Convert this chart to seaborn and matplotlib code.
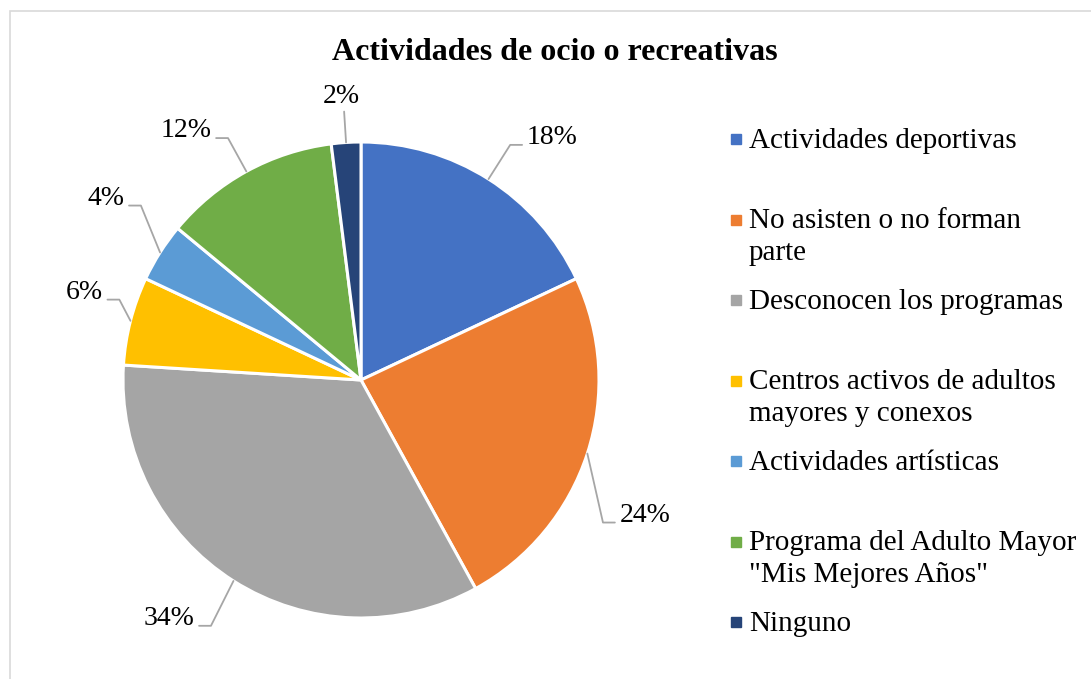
import numpy as np
import matplotlib
matplotlib.use("Agg")
import matplotlib.pyplot as plt
from matplotlib.lines import Line2D
from matplotlib.patches import Rectangle
import seaborn as sns

# datos del grafico
categorias = [
    "Actividades deportivas",
    "No asisten o no forman\nparte",
    "Desconocen los programas",
    "Centros activos de adultos\nmayores y conexos",
    "Actividades artísticas",
    "Programa del Adulto Mayor\n\"Mis Mejores Años\"",
    "Ninguno",
]
porcentajes = [18, 24, 34, 6, 4, 12, 2]
colores = ["#4472C4", "#ED7D31", "#A5A5A5", "#FFC000", "#5B9BD5", "#70AD47", "#264478"]

sns.set_theme(style="white")
plt.rcParams["font.family"] = ["Liberation Serif", "DejaVu Serif"]
plt.rcParams["text.color"] = "black"

W, H = 1091, 679
fig = plt.figure(figsize=(W / 100, H / 100), dpi=100)
fig.patch.set_facecolor("white")

# marco del area del grafico
fig.add_artist(Rectangle((10 / W, -0.5), 5, 0.5 + 1 - 11 / H, fill=False,
                         edgecolor="#D9D9D9", linewidth=1.2, transform=fig.transFigure))

# ejes cuadrados centrados en el pastel
cx, cy, R = 361, 380, 238
lim = 1.25
side = 2 * R * lim
ax = fig.add_axes([(cx - side / 2) / W, (H - cy - side / 2) / H, side / W, side / H])
pal = sns.color_palette(colores)
wedges, _ = ax.pie(porcentajes, colors=pal, startangle=90, counterclock=False,
                   radius=1, wedgeprops=dict(edgecolor="white", linewidth=2.2))
ax.set_xlim(-lim, lim)
ax.set_ylim(-lim, lim)
ax.axis("off")

# etiquetas con lineas guia
codo_r = [1.17, 1.18, 1.21, 1.07, 1.18, 1.16, 1.13]
codo_da = [0, 12.5, -1, 4, 6, 0, 0]
tick = 0.05
acum = np.cumsum([0] + porcentajes[:-1])
for i, v in enumerate(porcentajes):
    mid = 90 - (acum[i] + v / 2) * 3.6
    a = np.deg2rad(mid)
    x0, y0 = np.cos(a), np.sin(a)
    b = np.deg2rad(mid - codo_da[i])
    x1, y1 = codo_r[i] * np.cos(b), codo_r[i] * np.sin(b)
    lab = f"{v}%"
    if i == len(porcentajes) - 1:
        ax.plot([x0, x1], [y0, y1], color="#A6A6A6", lw=1.3, clip_on=False)
        ax.text(x1 - 0.01, y1 + 0.01, lab, ha="center", va="bottom", fontsize=20, clip_on=False)
        continue
    s = 1 if x1 > 0 else -1
    x2 = x1 + s * tick
    ax.plot([x0, x1, x2], [y0, y1, y1], color="#A6A6A6", lw=1.3, clip_on=False)
    ax.text(x2 + s * 0.02, y1 + 0.03, lab, ha="left" if s > 0 else "right",
            va="center", fontsize=20, clip_on=False)

# titulo
fig.text(555 / W, 1 - 52 / H, "Actividades de ocio o recreativas", ha="center", va="center",
         fontsize=23, fontweight="bold")

# leyenda manual (estilo Excel)
y_first, paso = 138, 80.5
for i, (cat, col) in enumerate(zip(categorias, pal)):
    yc = y_first + i * paso
    fig.add_artist(Line2D([736 / W], [1 - (yc + 1) / H], marker="s", markersize=7.2,
                          color=col, linestyle="none", transform=fig.transFigure))
    fig.text(749 / W, 1 - (yc - 10) / H, cat, ha="left", va="top", fontsize=21,
             linespacing=1.3)

fig.savefig("out.png", dpi=100, facecolor="white")
